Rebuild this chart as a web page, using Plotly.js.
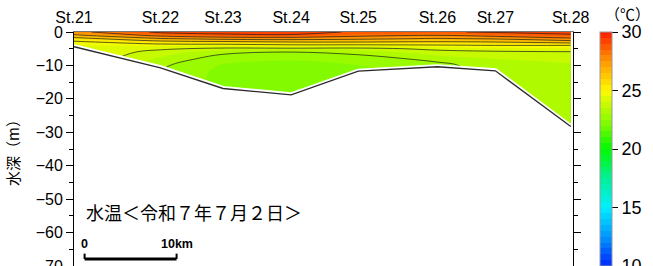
<!DOCTYPE html>
<html>
<head>
<meta charset="utf-8">
<script src="https://cdn.plot.ly/plotly-3.0.1.min.js"></script>
<style>html,body{margin:0;padding:0;background:#fff;}#chart{width:653px;height:266px;}</style>
</head>
<body>
<div id="chart"></div>
<script>
// Stations along the transect (distance in km from St.21)
const stations = ['St.21','St.22','St.23','St.24','St.25','St.26','St.27','St.28'];
const stationKm = [0, 9.4, 16.2, 23.6, 30.9, 39.5, 45.8, 54.0];
// Sea-bottom depth at each station (m)
const bottomDepth = [-4.4, -10.7, -16.9, -18.8, -11.7, -10.4, -11.6, -28.3];
// Depth levels of the profiles (m)
const depths = [0, -1, -2, -3, -4, -5, -6, -8, -10, -12, -15, -20, -25, -30];
// Water temperature profiles (°C) at each station, one value per depth level
const tempSt21 = [27.7, 26.8, 25.6, 24.8, 24.5, 24.5, 24.5, 24.6, 24.6, 24.6, 24.6, 24.6, 24.6, 24.6];
const tempSt22 = [29.2, 28.3, 26.9, 25.6, 24.6, 24.1, 23.8, 23.4, 23.1, 23.0, 23.0, 23.0, 23.0, 23.0];
const tempSt23 = [29.3, 28.8, 27.3, 25.75, 24.6, 23.85, 23.15, 22.7, 22.45, 22.35, 22.3, 22.3, 22.3, 22.3];
const tempSt24 = [29.3, 28.9, 27.4, 26.0, 24.8, 23.85, 23.0, 22.55, 22.35, 22.3, 22.3, 22.3, 22.3, 22.3];
const tempSt25 = [28.9, 28.3, 27.2, 26.0, 24.8, 23.8, 23.2, 22.7, 22.5, 22.4, 22.4, 22.4, 22.4, 22.4];
const tempSt26 = [28.9, 28.0, 26.9, 25.9, 24.9, 24.15, 23.8, 23.2, 22.8, 22.7, 22.7, 22.7, 22.7, 22.7];
const tempSt27 = [29.1, 28.4, 27.1, 26.0, 25.0, 24.3, 23.9, 23.5, 23.35, 23.3, 23.25, 23.25, 23.25, 23.25];
const tempSt28 = [29.4, 28.8, 27.8, 26.4, 25.0, 24.4, 23.95, 23.6, 23.45, 23.4, 23.35, 23.3, 23.3, 23.3];
const profiles = [tempSt21, tempSt22, tempSt23, tempSt24, tempSt25, tempSt26, tempSt27, tempSt28];
// Colour bar ticks
const cbTicks = [10, 15, 20, 25, 30];
// Scale bar (km)
const scaleStartKm = 1.15, scaleLenKm = 10, scaleDepth = -67.9;

const z = depths.map((d, i) => profiles.map(p => p[i]));

const jet = [[0,'rgb(0,40,255)'],[0.125,'rgb(0,150,255)'],[0.25,'rgb(0,240,255)'],[0.375,'rgb(0,240,150)'],
  [0.5,'rgb(0,250,0)'],[0.6,'rgb(120,250,0)'],[0.65,'rgb(165,250,0)'],[0.75,'rgb(255,250,0)'],
  [0.875,'rgb(255,150,0)'],[1,'rgb(255,30,0)']];

const fillTrace = {
  type: 'contour', x: stationKm, y: depths, z: z,
  zmin: 10, zmax: 30, autocontour: false,
  contours: {start: 10, end: 30, size: 0.5, coloring: 'fill', showlines: false},
  line: {width: 0}, colorscale: jet, hoverinfo: 'skip',
  colorbar: {
    x: 1.054, xanchor: 'left', xpad: 0, ypad: 0, y: 0.5, yanchor: 'middle', len: 1, lenmode: 'fraction',
    thickness: 12, outlinewidth: 1, outlinecolor: '#999', ticklabeloverflow: 'allow',
    tickvals: cbTicks, ticktext: cbTicks.map(String), ticks: 'outside', ticklen: 6, tickcolor: '#000',
    tickfont: {family: 'Liberation Sans, Arial, sans-serif', size: 18, color: '#000'}
  }
};
const lineTrace = {
  type: 'contour', x: stationKm, y: depths, z: z, showscale: false, autocontour: false,
  contours: {start: 22, end: 29, size: 1, coloring: 'none'},
  line: {color: '#1a1a1a', width: 0.7}, hoverinfo: 'skip'
};
const maskTrace = {
  type: 'scatter', mode: 'lines',
  x: stationKm.concat([stationKm[stationKm.length-1], stationKm[0]]),
  y: bottomDepth.concat([-80, -80]),
  fill: 'toself', fillcolor: '#fff', line: {color: '#fff', width: 5}, hoverinfo: 'skip'
};
const bottomTrace = {
  type: 'scatter', mode: 'lines', x: stationKm, y: bottomDepth,
  line: {color: '#2a2a2a', width: 1.3}, hoverinfo: 'skip'
};

const layout = {
  width: 653, height: 266, margin: {l: 74, r: 80, t: 32, b: 0},
  paper_bgcolor: '#fff', plot_bgcolor: '#fff', showlegend: false,
  font: {family: 'Liberation Sans, Arial, sans-serif', color: '#000'},
  xaxis: {
    range: [0, 54.24], side: 'top', showgrid: false, zeroline: false,
    showline: true, linecolor: '#777', linewidth: 1,
    tickvals: stationKm, ticktext: stations, ticks: '', ticklabelstandoff: 2,
    tickfont: {size: 16, color: '#000'}
  },
  yaxis: {
    range: [-70, 0], showgrid: false, zeroline: false,
    showline: true, linecolor: '#000', linewidth: 1, mirror: 'ticks', ticklabeloverflow: 'allow',
    tickvals: [0, -10, -20, -30, -40, -50, -60, -70], ticks: 'outside', ticklen: 7, tickcolor: '#000',
    minor: {dtick: 5, ticks: 'outside', ticklen: 4, tickcolor: '#000'},
    tickfont: {size: 16, color: '#000'},
    title: {text: '水深（m）', font: {family: 'Noto Sans CJK JP, sans-serif', size: 15, color: '#000'}, standoff: 12}
  },
  shapes: [
    {type: 'line', xref: 'x', yref: 'y', x0: scaleStartKm, x1: scaleStartKm + scaleLenKm, y0: scaleDepth, y1: scaleDepth, line: {color: '#000', width: 3}},
    {type: 'line', xref: 'x', yref: 'y', x0: scaleStartKm, x1: scaleStartKm, y0: scaleDepth, y1: scaleDepth + 1.6, line: {color: '#000', width: 2}},
    {type: 'line', xref: 'x', yref: 'y', x0: scaleStartKm + scaleLenKm, x1: scaleStartKm + scaleLenKm, y0: scaleDepth, y1: scaleDepth + 1.6, line: {color: '#000', width: 2}}
  ],
  annotations: [
    {xref: 'paper', yref: 'paper', x: 0.02, y: 0.231, xanchor: 'left', yanchor: 'middle', showarrow: false,
     text: '水温＜令和７年７月２日＞', font: {family: 'Noto Sans CJK JP, sans-serif', size: 18, color: '#000'}},
    {xref: 'x', yref: 'y', x: scaleStartKm, y: -63.4, xanchor: 'center', yanchor: 'middle', showarrow: false,
     text: '<b>0</b>', font: {size: 12.5, color: '#000'}},
    {xref: 'x', yref: 'y', x: scaleStartKm + scaleLenKm, y: -63.4, xanchor: 'center', yanchor: 'middle', showarrow: false,
     text: '<b>10km</b>', font: {size: 12.5, color: '#000'}},
    {xref: 'paper', yref: 'paper', x: 1.11, y: 1.077, xanchor: 'center', yanchor: 'middle', showarrow: false,
     text: '（℃）', font: {family: 'Noto Sans CJK JP, sans-serif', size: 15, color: '#000'}}
  ]
};

Plotly.newPlot('chart', [fillTrace, lineTrace, maskTrace, bottomTrace], layout, {displayModeBar: false, staticPlot: true});
</script>
</body>
</html>
